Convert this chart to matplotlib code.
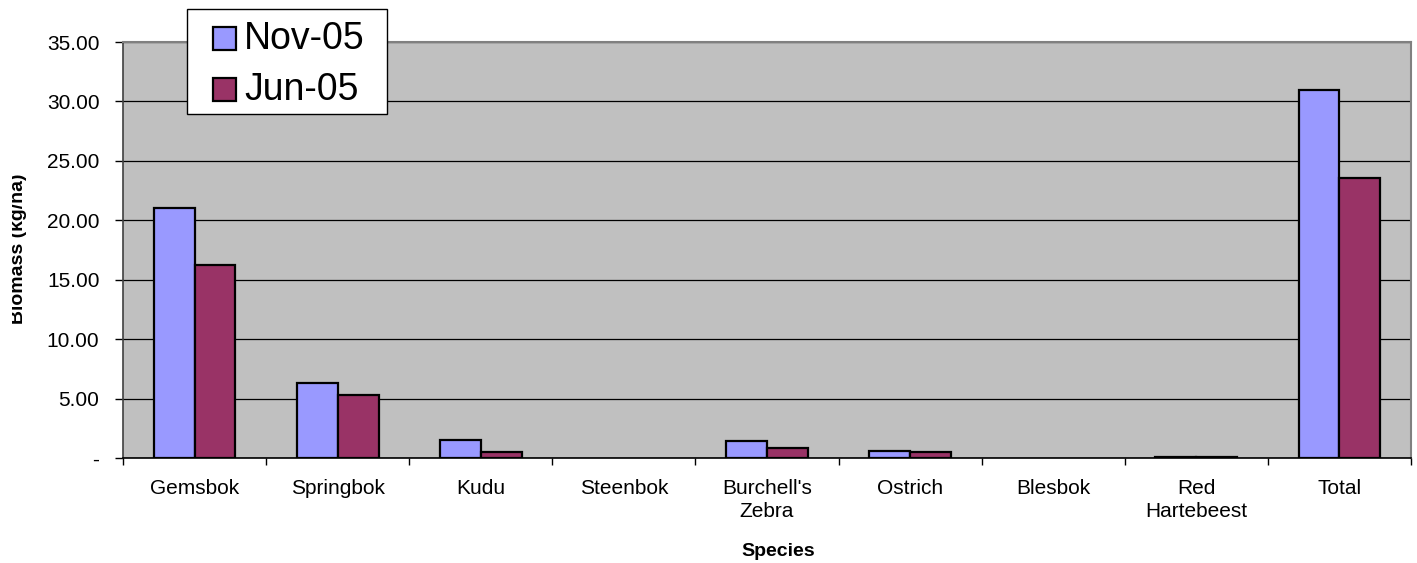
import matplotlib
matplotlib.use("Agg")
import matplotlib.pyplot as plt
from matplotlib.patches import Rectangle
from matplotlib.transforms import Bbox
import numpy as np

plt.rcParams['font.family'] = ['Liberation Sans', 'DejaVu Sans']

species = ["Gemsbok", "Springbok", "Kudu", "Steenbok", "Burchell's\nZebra",
           "Ostrich", "Blesbok", "Red\nHartebeest", "Total"]
nov_05 = [21.03, 6.31, 1.49, 0.0, 1.46, 0.59, 0.0, 0.07, 30.96]
jun_05 = [16.24, 5.30, 0.53, 0.0, 0.82, 0.53, 0.0, 0.09, 23.53]
series_labels = ["Nov-05", "Jun-05"]
colors = ["#9999FF", "#993366"]
y_ticks = [0, 5, 10, 15, 20, 25, 30, 35]

W, H = 1417, 563
fig = plt.figure(figsize=(W / 100, H / 100), dpi=100)
ax = fig.add_axes([123 / W, 1 - 458 / H, (1411 - 123) / W, (458 - 42) / H])
ax.set_facecolor("#C0C0C0")

x = np.arange(len(species))
bw = 1 / 3.5
for offset, vals, col in ((-bw / 2, nov_05, colors[0]), (bw / 2, jun_05, colors[1])):
    vals = np.asarray(vals)
    lw = np.where(vals > 0, 1.6, 0.0)
    ax.bar(x + offset, vals, width=bw, color=col, edgecolor="black",
           linewidth=lw, zorder=3)

ax.set_xlim(-0.5, len(species) - 0.5)
ax.set_ylim(0, 35)
ax.set_yticks(y_ticks)
ax.set_yticklabels(["-" if v == 0 else f"{v:.2f}" for v in y_ticks], fontsize=15)
ax.yaxis.grid(True, color="black", linewidth=0.9, zorder=1)
ax.set_axisbelow(True)

ax.set_xticks(np.arange(len(species) + 1) - 0.5)
ax.set_xticklabels([])
ax.set_xticks(x, minor=True)
ax.set_xticklabels(species, minor=True, fontsize=15, linespacing=1.3)
ax.tick_params(axis="x", which="minor", length=0, pad=15)
ax.tick_params(axis="x", which="major", length=5, width=1, color="black")
ax.tick_params(axis="y", length=6, width=1, color="black", pad=11)

for side in ("top", "right"):
    ax.spines[side].set_color("#808080")
    ax.spines[side].set_linewidth(1.5)
ax.spines["left"].set_color("#404040")
ax.spines["bottom"].set_color("black")
ax.spines["left"].set_linewidth(1.2)
ax.spines["bottom"].set_linewidth(1.2)

fig.text(778 / W, 1 - 551 / H, "Species", fontsize=14, fontweight="bold",
         ha="center", va="center")
ylab = fig.text(19 / W, 1 - 249 / H, "Biomass (kg/ha)", fontsize=14,
                fontweight="bold", rotation=90, ha="center", va="center")
ylab.set_clip_box(Bbox([[12, 0], [W, H]]))
ylab.set_clip_on(True)

# Legend box drawn in figure pixel space
def px(xp, yp):
    return xp / W, 1 - yp / H

fig.patches.append(Rectangle(px(187, 114), 200 / W, 105 / H,
                             transform=fig.transFigure, facecolor="white",
                             edgecolor="black", linewidth=1.0, zorder=5))
for i, (lab, col) in enumerate(zip(series_labels, colors)):
    top = 27 + i * 51
    fig.patches.append(Rectangle(px(213, top + 23), 23 / W, 23 / H,
                                 transform=fig.transFigure, facecolor=col,
                                 edgecolor="black", linewidth=1.6, zorder=6))
    fig.text(*px(244, top + 12), lab, fontsize=27, ha="left", va="center",
             zorder=7)

fig.savefig("out.png", dpi=100, facecolor="white")
